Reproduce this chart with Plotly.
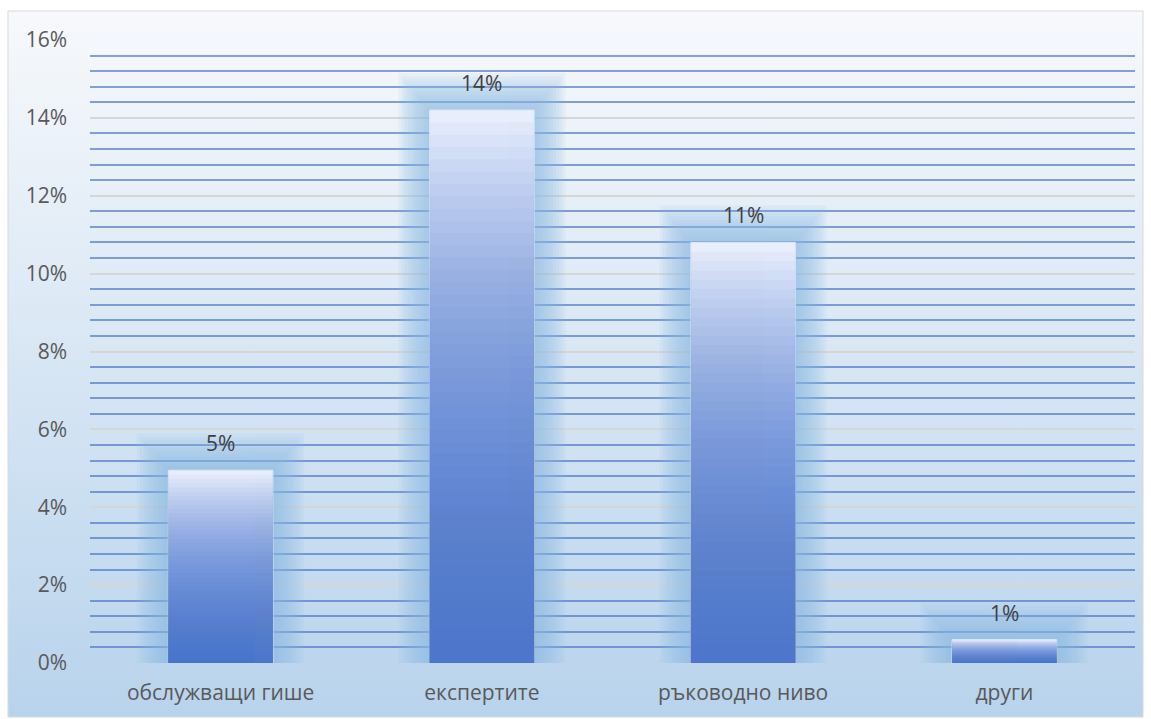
import base64
import plotly.graph_objects as go

categories = ["обслужващи гише", "експертите", "ръководно ниво", "други"]
values = [0.0495, 0.142, 0.108, 0.006]
y_ticks = [0, 0.02, 0.04, 0.06, 0.08, 0.10, 0.12, 0.14, 0.16]

FONT = "Open Sans"
TXT = "#595959"
FS = 21

fig = go.Figure()

# soft glow around each bar
G = 10
for k in range(G):
    t = k / (G - 1)
    w = 0.64 - 0.22 * t
    extra = 0.0085 * (1 - t) + 0.001
    fig.add_trace(go.Bar(x=categories, y=[v + extra for v in values], width=w,
                         marker=dict(color="#8dbbe4", line=dict(width=0)),
                         opacity=0.1, hoverinfo="skip", showlegend=False))

# base (light top colour)
fig.add_trace(go.Bar(x=categories, y=values, width=0.4,
                     marker=dict(color="#f0f4fe", line=dict(color="#dfe8f8", width=1)),
                     showlegend=False))

# layered overlays to build a vertical gradient (darker at bottom)
N = 45
for i in range(1, N + 1):
    frac = i / N
    fig.add_trace(go.Bar(x=categories, y=[v * frac for v in values], width=0.4,
                         marker=dict(color="#3d6ccc", line=dict(width=0)),
                         opacity=0.04, hoverinfo="skip", showlegend=False))

# data labels
for c, v in zip(categories, values):
    fig.add_annotation(x=c, y=v, text=f"{v:.0%}", showarrow=False,
                       yanchor="bottom", yshift=11,
                       font=dict(family=FONT, size=FS, color="#404040"))

# gradient background via svg image
svg = ('<svg xmlns="http://www.w3.org/2000/svg" width="100" height="100" preserveAspectRatio="none">'
       '<defs><linearGradient id="g" x1="0" y1="0" x2="0" y2="1">'
       '<stop offset="0" stop-color="#f7f9fc"/><stop offset="1" stop-color="#b8d3ec"/>'
       '</linearGradient></defs><rect width="100" height="100" fill="url(#g)"/></svg>')
src = "data:image/svg+xml;base64," + base64.b64encode(svg.encode()).decode()

W, H = 1151, 719
L, R, T, B = 90, 16, 40, 56
pw, ph = W - L - R, H - T - B
x0p = (8 - L) / pw
x1p = (1143 - L) / pw
y1p = (H - B - 11) / ph
y0p = (H - B - 717) / ph

fig.add_layout_image(source=src, xref="paper", yref="paper", x=x0p, y=y1p,
                     sizex=x1p - x0p, sizey=y1p - y0p, xanchor="left", yanchor="top",
                     sizing="stretch", layer="below")
fig.add_shape(type="rect", xref="paper", yref="paper", x0=x0p, x1=x1p, y0=y0p, y1=y1p,
              line=dict(color="#d9d9d9", width=1), fillcolor="rgba(0,0,0,0)", layer="below")

fig.update_layout(
    width=W, height=H,
    margin=dict(l=L, r=R, t=T, b=B),
    barmode="overlay",
    paper_bgcolor="white",
    plot_bgcolor="rgba(0,0,0,0)",
    font=dict(family=FONT, size=FS, color=TXT),
    showlegend=False,
    xaxis=dict(showgrid=False, showline=False, zeroline=False, ticks="",
               ticklabelstandoff=15, tickfont=dict(family=FONT, size=FS, color=TXT)),
    yaxis=dict(range=[0, 0.16], tickvals=y_ticks, tickformat=".0%",
               showgrid=True, gridcolor="#d6d6d6", gridwidth=1.5,
               zeroline=False, showline=False, ticks="",
               ticklabelstandoff=22, tickfont=dict(family=FONT, size=FS, color=TXT),
               minor=dict(dtick=0.004, tick0=0, showgrid=True,
                          gridcolor="rgba(68,114,196,0.65)", gridwidth=1.5)),
)

fig.write_html("out.html")
